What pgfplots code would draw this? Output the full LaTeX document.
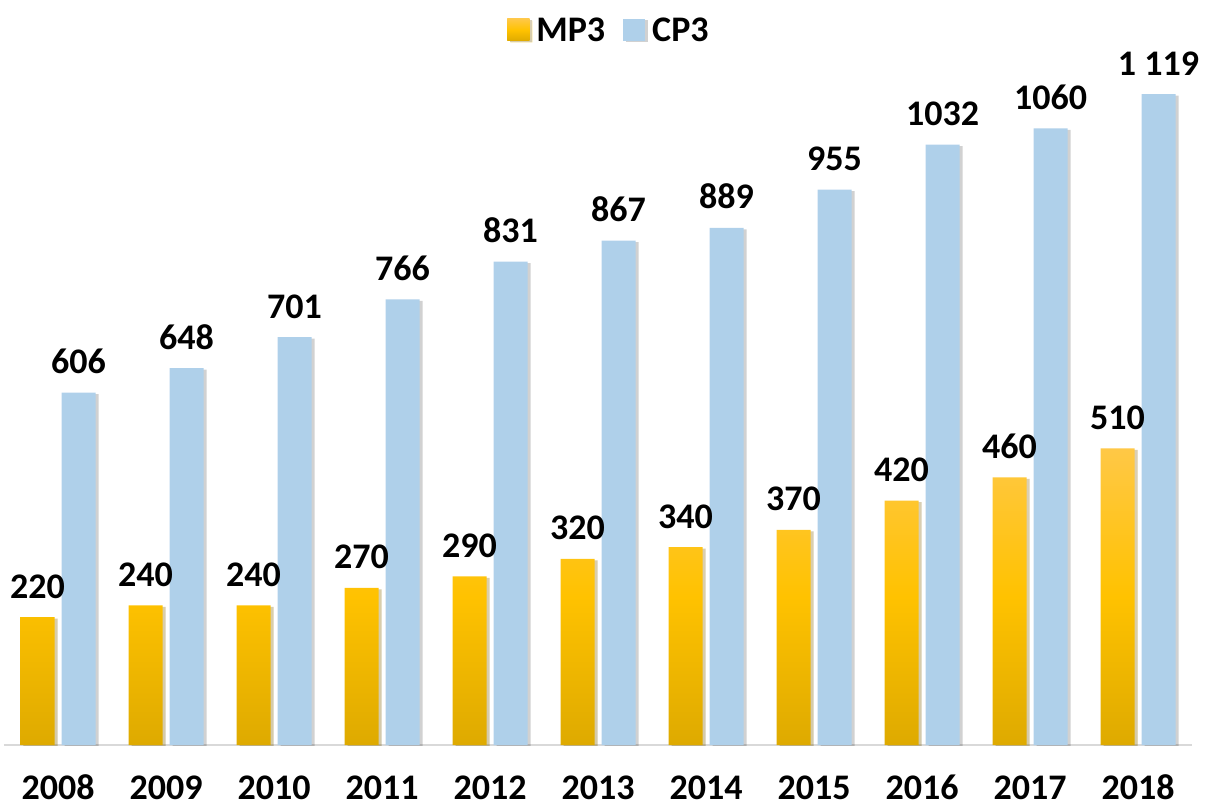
\documentclass[border=0pt]{standalone}
\usepackage{pgfplots}
\pgfplotsset{compat=1.18}
\usepackage{fontspec}
\setmainfont{Carlito}
\definecolor{mpTop}{RGB}{255,200,70}
\definecolor{mpMid}{RGB}{255,194,0}
\definecolor{mpBot}{RGB}{222,170,0}
\definecolor{cpBlue}{RGB}{175,208,234}
\definecolor{axgray}{RGB}{217,217,217}
\tikzset{barshadow/.style={preaction={fill=black, opacity=0.18, transform canvas={xshift=3pt, yshift=-1.5pt}}}}
\begin{document}
\begin{tikzpicture}
\begin{axis}[
  scale only axis, width=1188pt, height=698pt,
  xmin=2007.5, xmax=2018.5, ymin=0, ymax=1200,
  ybar=7pt, bar width=34pt,
  axis y line=none, axis x line*=bottom,
  x axis line style={draw=axgray, line width=2.5pt, -},
  major tick length=0pt,
  xtick=data,
  xticklabels={2008,2009,2010,2011,2012,2013,2014,2015,2016,2017,2018},
  xticklabel style={anchor=base, yshift=-54pt, font=\bfseries\fontsize{36}{40}\selectfont},
  nodes near coords,
  point meta=explicit symbolic,
  every node near coord/.append style={anchor=base, yshift=19pt, inner sep=0pt, font=\bfseries\fontsize{36}{40}\selectfont, text=black},
  legend columns=2,
  legend style={at={(axis description cs:0.5,1)}, anchor=center, xshift=11pt, yshift=17pt, draw=none, fill=none, font=\bfseries\fontsize{36}{40}\selectfont,
    /tikz/every odd column/.append style={column sep=5pt},
    /tikz/every even column/.append style={column sep=16pt}},
  legend image code/.code={\path[#1, draw=none, preaction={}] (0pt,-11pt) rectangle (22pt,11pt);},
]
\addplot[draw=none, top color=mpTop, bottom color=mpBot, middle color=mpMid, barshadow] table[meta=lab] {
x y lab
2008 220 220
2009 240 240
2010 240 240
2011 270 270
2012 290 290
2013 320 320
2014 340 340
2015 370 370
2016 420 420
2017 460 460
2018 510 510
};
\addplot[draw=none, fill=cpBlue, barshadow] table[meta=lab, col sep=comma] {
x,y,lab
2008,606,606
2009,648,648
2010,701,701
2011,766,766
2012,831,831
2013,867,867
2014,889,889
2015,955,955
2016,1032,1032
2017,1060,1060
2018,1119,1 119
};
\legend{MP3,CP3}
\end{axis}
\pgfresetboundingbox
\useasboundingbox (-4pt,-63pt) rectangle (1202pt,745pt);
\end{tikzpicture}
\end{document}
